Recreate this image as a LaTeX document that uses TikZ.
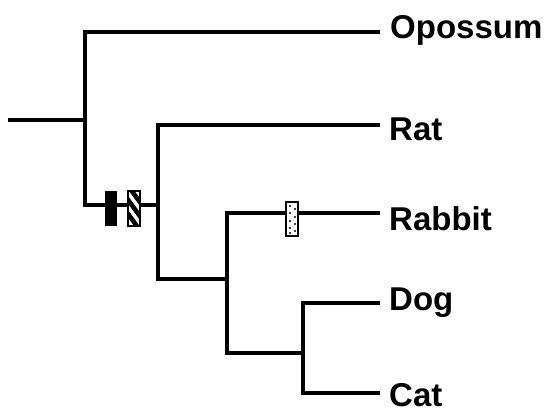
\documentclass[tikz,border=0pt]{standalone}
\usepackage{fontspec}
\setmainfont{Liberation Sans}
\begin{document}
\begin{tikzpicture}[x=1pt,y=-1pt,
  branch/.style={line width=3.2pt, line cap=rect, line join=miter},
  taxon/.style={anchor=base west, inner sep=0pt, font=\fontsize{33}{36}\selectfont\bfseries},
  barbox/.style={draw=black, line width=1.2pt}]
\useasboundingbox (0,0) rectangle (547,413);
% junction coordinates
\coordinate (root) at (10,120);
\coordinate (n1) at (85,120);
\coordinate (n1t) at (85,32);
\coordinate (n1b) at (85,205);
\coordinate (n2) at (158,205);
\coordinate (n2t) at (158,125);
\coordinate (n2b) at (158,279);
\coordinate (n3) at (227,279);
\coordinate (n3t) at (227,213);
\coordinate (n3b) at (227,353);
\coordinate (n4) at (303,353);
\coordinate (n4t) at (303,303);
\coordinate (n4b) at (303,393);
% tip ends
\coordinate (eOpossum) at (378,32);
\coordinate (eRat) at (378,125);
\coordinate (eRabbit) at (378,213);
\coordinate (eDog) at (378,303);
\coordinate (eCat) at (378,393);
% labels
\node[taxon] (Opossum) at (390,38) {Opossum};
\node[taxon] (Rat) at (389,140) {Rat};
\node[taxon] (Rabbit) at (389,230) {Rabbit};
\node[taxon] (Dog) at (389,310) {Dog};
\node[taxon] (Cat) at (389,406) {Cat};
% tree
\draw[branch] (root) -- (n1);
\draw[branch] (n1t) -- (n1b);
\draw[branch] (n1t) -- (eOpossum);
\draw[branch] (n1b) -- (n2);
\draw[branch] (n2t) -- (n2b);
\draw[branch] (n2t) -- (eRat);
\draw[branch] (n2b) -- (n3);
\draw[branch] (n3t) -- (n3b);
\draw[branch] (n3t) -- (eRabbit);
\draw[branch] (n3b) -- (n4);
\draw[branch] (n4t) -- (n4b);
\draw[branch] (n4t) -- (eDog);
\draw[branch] (n4b) -- (eCat);
% black bar
\fill[black] (105,191) rectangle (117,226);
% hatched bar
\fill[white] (128,191) rectangle (140,226);
\begin{scope}
\clip (128,191) rectangle (140,226);
\foreach \k in {-36,-22,...,40}
  \draw[line width=4.5pt] (126,{191+\k}) -- (142,{191+\k+22});
\end{scope}
\draw[barbox] (128,191) rectangle (140,226);
% dotted bar
\fill[white] (286,202) rectangle (298,236);
\foreach \p in {(290,206),(295,209),(290,213),(295,217),(290,221),(295,224),(290,228),(295,231),(290,233)}
  \fill[black] \p circle (1.1);
\draw[barbox] (286,202) rectangle (298,236);
\end{tikzpicture}
\end{document}
